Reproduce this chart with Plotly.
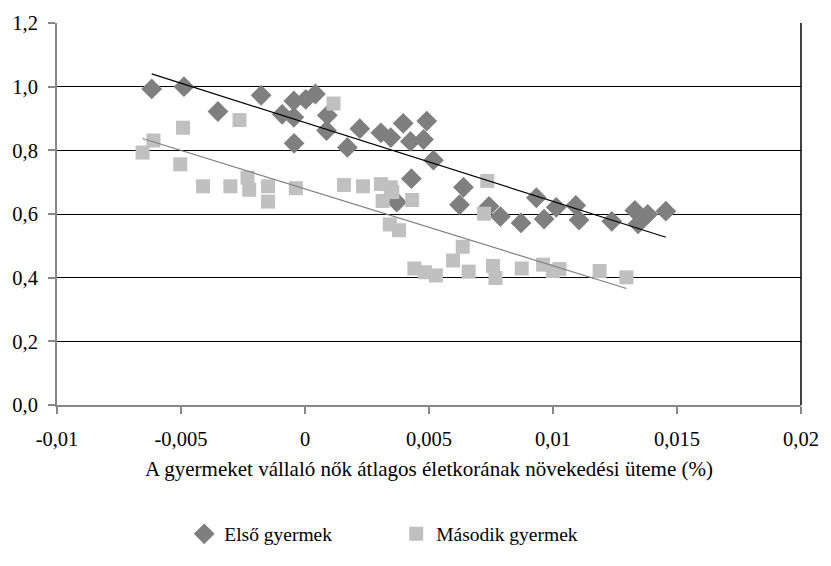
import numpy as np
import plotly.graph_objects as go

# ---- data ----
elso_x = [-0.00618, -0.00488, -0.00351, -0.00177, -0.00092, -0.00045, -0.00045, 0.00003, 0.00042,
          -0.00044, 0.0009, 0.00087, 0.00221, 0.00171, 0.00306, 0.00346, 0.00396, 0.00425,
          0.00478, 0.00491, 0.00518, 0.00429, 0.0037, 0.00639, 0.00623, 0.00742, 0.00788,
          0.00871, 0.00933, 0.00964, 0.01013, 0.01092, 0.01105, 0.01237, 0.0133, 0.01343,
          0.01382, 0.01455]
elso_y = [0.993, 1.0, 0.922, 0.973, 0.913, 0.904, 0.955, 0.96, 0.977,
          0.822, 0.91, 0.862, 0.868, 0.809, 0.855, 0.84, 0.885, 0.828,
          0.834, 0.892, 0.769, 0.711, 0.637, 0.684, 0.629, 0.624, 0.592,
          0.572, 0.651, 0.584, 0.621, 0.627, 0.581, 0.577, 0.611, 0.569,
          0.599, 0.609]

masodik_x = [-0.00655, -0.00611, -0.00492, -0.00503, -0.00411, -0.00301, -0.00264, -0.00232,
             -0.00225, -0.00149, -0.00149, -0.00037, 0.00115, 0.00157, 0.00234, 0.00306,
             0.00346, 0.00313, 0.00352, 0.00432, 0.00342, 0.00379, 0.00735, 0.00722,
             0.00636, 0.00597, 0.00441, 0.00484, 0.00528, 0.0066, 0.00758, 0.00768,
             0.00874, 0.0096, 0.00999, 0.01026, 0.01188, 0.01296]
masodik_y = [0.793, 0.831, 0.871, 0.756, 0.687, 0.687, 0.895, 0.714,
             0.676, 0.687, 0.639, 0.681, 0.947, 0.691, 0.687, 0.694,
             0.684, 0.641, 0.669, 0.644, 0.567, 0.549, 0.704, 0.601,
             0.497, 0.454, 0.429, 0.417, 0.407, 0.419, 0.437, 0.399,
             0.429, 0.441, 0.421, 0.427, 0.421, 0.401]

series_names = ["Első gyermek", "Második gyermek"]
x_tickvals = [-0.01, -0.005, 0, 0.005, 0.01, 0.015, 0.02]
x_ticktext = ["-0,01", "-0,005", "0", "0,005", "0,01", "0,015", "0,02"]
y_tickvals = [0.0, 0.2, 0.4, 0.6, 0.8, 1.0, 1.2]
y_ticktext = ["0,0", "0,2", "0,4", "0,6", "0,8", "1,0", "1,2"]
x_title = "A gyermeket vállaló nők átlagos életkorának növekedési üteme (%)"

FONT = "Liberation Serif, Times New Roman, serif"
FS_TICK = 20.5
FS_TITLE = 21
FS_LEG = 19.5


def trend(xs, ys):
    xs = np.asarray(xs)
    ys = np.asarray(ys)
    m, b = np.polyfit(xs, ys, 1)
    tx = np.array([xs.min(), xs.max()])
    return tx, m * tx + b


fig = go.Figure()
fig.add_trace(go.Scatter(x=elso_x, y=elso_y, mode="markers", name=series_names[0],
                         marker=dict(symbol="diamond", size=16, color="#7F7F7F",
                                     line=dict(width=0))))
fig.add_trace(go.Scatter(x=masodik_x, y=masodik_y, mode="markers", name=series_names[1],
                         marker=dict(symbol="square", size=14, color="#C0C0C0",
                                     line=dict(width=0))))
tx1, ty1 = trend(elso_x, elso_y)
tx2, ty2 = trend(masodik_x, masodik_y)
fig.add_trace(go.Scatter(x=tx1, y=ty1, mode="lines", showlegend=False, hoverinfo="skip",
                         line=dict(color="#000000", width=1.2)))
fig.add_trace(go.Scatter(x=tx2, y=ty2, mode="lines", showlegend=False, hoverinfo="skip",
                         line=dict(color="#808080", width=1.2)))

fig.update_layout(
    width=831, height=566,
    margin=dict(l=53, r=21, t=23, b=143),
    paper_bgcolor="white", plot_bgcolor="white",
    font=dict(family=FONT, size=FS_TICK, color="#000000"),
    showlegend=True,
    legend=dict(orientation="h", x=0.171, xanchor="left", y=-0.338, yanchor="middle",
                entrywidth=167, entrywidthmode="pixels",
                font=dict(family=FONT, size=FS_LEG, color="#000000"),
                bgcolor="rgba(0,0,0,0)"),
    xaxis=dict(range=[-0.01, 0.02], tickmode="array", tickvals=x_tickvals, ticktext=x_ticktext,
               showgrid=False, zeroline=False, showline=True, linecolor="#878787", linewidth=2,
               ticks="outside", ticklen=7, tickwidth=2, tickcolor="#878787",
               ticklabelstandoff=7, tickfont=dict(family=FONT, size=FS_TICK, color="#000000")),
    yaxis=dict(range=[0, 1.2], tickmode="array", tickvals=y_tickvals, ticktext=y_ticktext,
               showgrid=True, gridcolor="#000000", gridwidth=1, zeroline=False,
               showline=True, linecolor="#878787", linewidth=2,
               ticks="outside", ticklen=7, tickwidth=2, tickcolor="#878787",
               ticklabelstandoff=6, tickfont=dict(family=FONT, size=FS_TICK, color="#000000")),
    shapes=[dict(type="line", xref="paper", yref="paper", x0=1, x1=1, y0=0, y1=1,
                 line=dict(color="#000000", width=1.5))],
    annotations=[dict(text=x_title, xref="paper", yref="paper", x=0.5, y=-0.167,
                      xanchor="center", yanchor="middle", showarrow=False,
                      font=dict(family=FONT, size=FS_TITLE, color="#000000"))],
)

fig.write_html("out.html")
